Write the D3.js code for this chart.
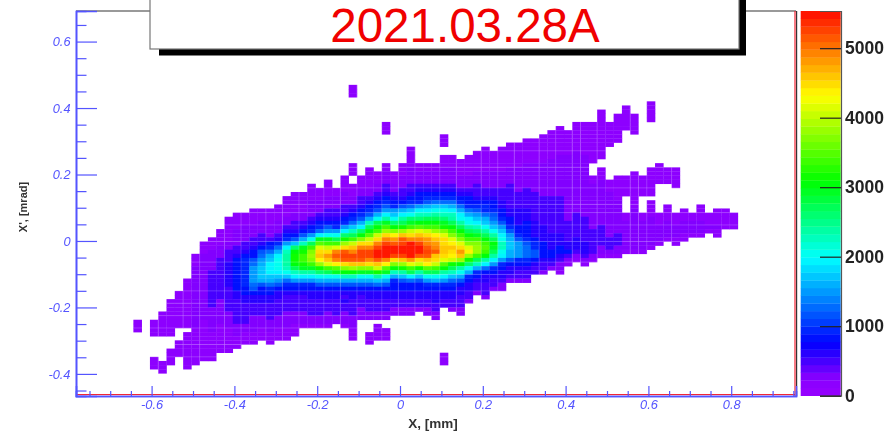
<!DOCTYPE html>
<html>
<head>
<meta charset="utf-8">
<script src="https://cdn.jsdelivr.net/npm/d3@7"></script>
<style>
  html, body { margin: 0; padding: 0; background: #fff; overflow: hidden; }
  svg { display: block; filter: blur(0.45px); font-family: "Liberation Sans", Arial, sans-serif; }
</style>
</head>
<body>
<div id="chart"></div>
<script>
// Bin edges
var binX0 = -0.644, binDX = 0.02;
var binY0 = 0.4698, binDY = 0.0124;
var countUnit = 160;   // one step of the base-36 codes below

// First row of every column, top row = 0
var colStart = [57,57,57,55,52,50,47,41,38,37,35,32,31,31,30,30,30,29,27,26,26,24,25,23,25,22,0,22,20,21,9,21,19,15,19,19,19,12,17,18,17,16,15,16,15,14,14,13,13,12,11,10,11,9,9,9,6,9,7,5,7,22,4,19,20,20,30,31,29,31,30,30,31];

// Counts per column from colStart downward, "." is an empty bin
var colCells = [
  "111",
  "",
  "1111. ....1 11",
  "11111 1.... ..111",
  "11111 1111. ..111 1",
  "11111 1111. ..111 1",
  "11111 11111 11.11 11111 11",
  "11122 22222 22222 22211 11111 11",
  "11122 22222 22222 22221 11111 1111",
  "11122 22233 33333 33222 22211 11111",
  "11112 22333 33333 33222 22211 11111",
  "11111 12233 34444 44333 33322 22111 111",
  "11112 22233 45555 55554 43333 33222 111",
  "11122 22334 56666 66655 44333 33221 11",
  "11112 22334 55789 99987 54433 32222 111",
  "11122 23345 789ab bba75 54433 32221 11",
  "11112 22356 8abcc cba86 54433 33222 111",
  "11112 22346 8acdd dcb97 54433 33222 111",
  "11111 22345 69cef ffedb 86543 33322 22111",
  "11111 22334 57bgj kkjhe c9654 33332 22111",
  "11111 22345 7aeik llkif c9654 33332 221",
  "11112 22234 569dh lnonl ifc96 54433 33221",
  "11122 23456 8cimq strok gda75 44333 3221",
  "11112 22334 579di lpsut qlhda 75443 33222 1",
  "11222 33456 9dhlq vwvrm ida75 44333 322",
  "11112 22334 569cg koswx wsnje a7543 43322 21",
  "111.. ..... ..... ....1 11..1 11223 4568b ehlpt vxwto jea75 44333 32221 11",
  "11122 33456 7acgj nsvxx wtnid a7543 33222",
  "11111 22345 67aeh jmpsv xxvsn ida75 44333 22... 111",
  "11122 34567 adhjl psvxy ywtpk fb854 43332 2.111 1",
  "111.. ..... 11222 33456 79cfi losvx zzyvr mida7 54433 322.. 111",
  "11122 34569 bdgjn ruwzz xsnje a6554 43322",
  "11122 23345 7acfh kotwx zzxto kfb75 54433 22",
  "11111 22223 34568 bdgil psvyz zyuql hc855 44332 2",
  "11222 34556 9cegj mqtvx yzwsp kfb75 54433 2",
  "11222 34567 acehj lpsuv wxwtr mhd96 54433 22",
  "11222 34568 bdfhj lortu vwtsp lhda6 54443 322",
  "111.. 11122 22345 68bde gikn q sstts qmjfc 96544 33... ..... ...11 1",
  "11122 22345 68ace fhjln qrtsr pkheb 86544 332",
  "11112 22345 68acd fhjln qsuto jfda7 54433 322",
  "11111 22234 5568a cdfhj lnqro kgda6 54433 2",
  "11111 22233 34567 9bceg ilnoo lhea6 54332",
  "11111 12222 33456 68abd fhjlm ljfc8 54433 32",
  "11111 22223 34556 789bd fhjih fc965 4332",
  "11111 12222 33344 55679 bcdee dc965 44322",
  "11111 12222 33333 34455 679ab baa75 4432",
  "11111 12222 22333 34444 55679 99965 4332",
  "11111 12222 22333 33444 55556 78886 54332",
  "11111 12222 22233 33333 44445 66775 433",
  "11111 11222 22222 33333 33444 45555 4332",
  "11111 11222 22222 23333 33333 44445 5432",
  "11111 11222 22222 22333 33333 34445 54322 1",
  "11111 12222 22222 22222 22333 33445 321",
  "11111 11222 22222 22222 22333 33344 4321",
  "11111 11122 22222 22222 22233 33334 44321",
  "11111 11111 ...11 22222 22222 23333 3321",
  "11111 11111 11..1 11222 22222 22233 33322 1",
  "11111 1.... ....1 11222 22222 22233 321",
  "11111 11... ..... 11111 12222 22223 33221",
  "11111 1.... ..... ..111 11... .1122 22222 1",
  "11111 ..... ....1 11111 11122 22222 2221",
  "11111 ....1 12222 2221",
  "11111 ..... ..... .1111 111.1 11122 22222 1",
  "11111 ..... ..111 22221",
  "1111. ....1 11122 221",
  "11111 ..... .1112 2211",
  "11122 211",
  "11222 1",
  "11112 221",
  "11121",
  "11112 11",
  "11111",
  "1111"
];

// Faint light seams the picture shows between some bins
var seamCols = [3, 6, 8, 11, 13, 16, 18, 20, 23, 25, 27, 30, 32, 34, 37, 39, 42, 44, 46, 49, 51, 53, 54, 56, 60, 61, 62, 65];
var seamRows = [16, 20, 25, 29, 31, 34, 38, 43, 46, 50, 53, 56, 59, 63, 66];

var xMajor = [-0.6, -0.4, -0.2, 0, 0.2, 0.4, 0.6, 0.8];
var xMinor = [-0.75, -0.7, -0.65, -0.55, -0.5, -0.45, -0.35, -0.3, -0.25, -0.15, -0.1, -0.05, 0.05, 0.1, 0.15, 0.25, 0.3, 0.35, 0.45, 0.5, 0.55, 0.65, 0.7, 0.75, 0.85, 0.9, 0.95];
var yMajor = [-0.4, -0.2, 0, 0.2, 0.4, 0.6];
var yMinor = [-0.45, -0.35, -0.3, -0.25, -0.15, -0.1, -0.05, 0.05, 0.1, 0.15, 0.25, 0.3, 0.35, 0.45, 0.5, 0.55, 0.65];
var colorTicks = [0, 1000, 2000, 3000, 4000, 5000];
var colorMax = 5535, colorBands = 50;

var titleText = "2021.03.28A";
var xTitle = "X, [mm]";
var yTitle = "X', [mrad]";

// Palette stops
var stopValues = [0, 200, 700, 1930, 3030, 4255, 5535];
var stopColors = ["#9400ff", "#8800ff", "#0000ff", "#00ffff", "#00ff00", "#ffff00", "#ff0000"];

var W = 889, H = 433;
var blue = "#5454ff";

var x = d3.scaleLinear().domain([-0.7826, 0.9565]).range([76, 796]);
var y = d3.scaleLinear().domain([-0.4665, 0.6920]).range([396, 11]);
var yColor = d3.scaleLinear().domain([0, colorMax]).range([395.7, 11]);

var ramp = d3.scaleLinear().domain(stopValues).range(stopColors).interpolate(d3.interpolateRgb);
function bandColor(v) {
  var b = Math.min(colorBands - 1, Math.floor(v / colorMax * colorBands));
  return ramp(b * colorMax / colorBands);
}

// Flatten the columns into bins
var bins = [];
colCells.forEach(function(s, c) {
  s.replace(/ /g, "").split("").forEach(function(ch, i) {
    if (ch == ".") return;
    bins.push({ c: c, r: colStart[c] + i, v: parseInt(ch, 36) * countUnit });
  });
});

var svg = d3.select("#chart").append("svg")
  .attr("width", W)
  .attr("height", H);

// Histogram, the small overlap hides the antialiasing gap between bins
svg.append("g").attr("class", "bins")
  .selectAll("rect")
  .data(bins)
  .enter().append("rect")
    .attr("x", function(d) { return x(binX0 + d.c * binDX); })
    .attr("y", function(d) { return y(binY0 - d.r * binDY); })
    .attr("width", function(d) { return x(binX0 + (d.c + 1) * binDX) - x(binX0 + d.c * binDX) + 0.3; })
    .attr("height", function(d) { return y(binY0 - (d.r + 1) * binDY) - y(binY0 - d.r * binDY) + 0.3; })
    .style("fill", function(d) { return bandColor(d.v); });

// Seams
var seams = svg.append("g").attr("class", "seams")
  .style("stroke", "#fff").style("stroke-opacity", 0.22).style("stroke-width", 0.9);
seams.selectAll("line.col")
  .data(seamCols)
  .enter().append("line").attr("class", "col")
    .attr("x1", function(d) { return x(binX0 + d * binDX); })
    .attr("x2", function(d) { return x(binX0 + d * binDX); })
    .attr("y1", y(binY0)).attr("y2", y(binY0 - 70 * binDY));
seams.selectAll("line.row")
  .data(seamRows)
  .enter().append("line").attr("class", "row")
    .attr("y1", function(d) { return y(binY0 - d * binDY); })
    .attr("y2", function(d) { return y(binY0 - d * binDY); })
    .attr("x1", x(binX0)).attr("x2", x(binX0 + 73 * binDX));

// Frame
svg.append("line").attr("x1", 76).attr("x2", 796).attr("y1", 11).attr("y2", 11)
  .style("stroke", "#777").style("stroke-width", 1.4);
svg.append("line").attr("x1", 76).attr("x2", 795).attr("y1", 394.6).attr("y2", 394.6)
  .style("stroke", "#f01020").style("stroke-width", 1);
svg.append("line").attr("x1", 796.6).attr("x2", 796.6).attr("y1", 11).attr("y2", 396)
  .style("stroke", "#333").style("stroke-width", 1.2);
svg.append("line").attr("x1", 795).attr("x2", 795).attr("y1", 11).attr("y2", 396)
  .style("stroke", "#f01020").style("stroke-width", 1.1);

// Axes
function styleAxis(g) {
  g.selectAll(".domain").style("stroke", blue).style("stroke-width", 1.6);
  g.selectAll(".tick line").style("stroke", blue).style("stroke-width", 1.2);
  g.selectAll(".tick text")
    .style("fill", blue)
    .style("font-size", "12.8px")
    .style("font-style", "italic")
    .style("font-family", "'Liberation Sans', Arial, sans-serif");
}

svg.append("g").attr("transform", "translate(0,396)")
  .call(d3.axisBottom(x).tickValues(xMinor).tickSize(-5).tickFormat(""))
  .call(styleAxis);
svg.append("g").attr("transform", "translate(0,396)")
  .call(d3.axisBottom(x).tickValues(xMajor).tickSize(-10).tickPadding(4).tickFormat(function(d) { return String(d); }))
  .call(styleAxis);
svg.append("g").attr("transform", "translate(76,0)")
  .call(d3.axisLeft(y).tickValues(yMinor).tickSize(-10.5).tickFormat(""))
  .call(styleAxis);
svg.append("g").attr("transform", "translate(76,0)")
  .call(d3.axisLeft(y).tickValues(yMajor).tickSize(-21).tickPadding(5.5).tickFormat(function(d) { return String(d); }))
  .call(styleAxis);

svg.append("text")
  .attr("x", 433).attr("y", 428)
  .attr("text-anchor", "middle")
  .style("font-size", "13.5px").style("font-weight", "bold").style("fill", "#333")
  .text(xTitle);
svg.append("text")
  .attr("transform", "translate(27,207) rotate(-90)")
  .attr("text-anchor", "middle")
  .style("font-size", "11px").style("font-weight", "bold").style("fill", "#333")
  .text(yTitle);

// Colour bar
svg.append("g").attr("class", "palette")
  .selectAll("rect")
  .data(d3.range(colorBands))
  .enter().append("rect")
    .attr("x", 800.7)
    .attr("width", 40)
    .attr("y", function(d) { return yColor((d + 1) * colorMax / colorBands); })
    .attr("height", function(d) { return yColor(d * colorMax / colorBands) - yColor((d + 1) * colorMax / colorBands) + 0.3; })
    .style("fill", function(d) { return ramp(d * colorMax / colorBands); });

var colorAxis = svg.append("g").attr("transform", "translate(841,0)")
  .call(d3.axisRight(yColor).tickValues(colorTicks).tickSize(-21).tickPadding(4).tickFormat(function(d) { return String(d); }));
colorAxis.selectAll(".domain").style("stroke", "#555").style("stroke-width", 1.2);
colorAxis.selectAll(".tick line").style("stroke", "#222").style("stroke-width", 1.2);
colorAxis.selectAll(".tick text")
  .style("fill", "#222")
  .style("font-size", "17.5px")
  .style("font-weight", "bold")
  .style("font-family", "'Liberation Sans', Arial, sans-serif");

// Title pave with its shadow
svg.append("rect").attr("x", 159).attr("y", 0).attr("width", 587).attr("height", 55.5).style("fill", "#000");
svg.append("rect").attr("x", 150).attr("y", -2).attr("width", 589).attr("height", 51)
  .style("fill", "#fff").style("stroke", "#777").style("stroke-width", 1.2);
svg.append("text")
  .attr("x", 465).attr("y", 42)
  .attr("text-anchor", "middle")
  .style("font-size", "47.5px").style("fill", "#f00000")
  .text(titleText);
</script>
</body>
</html>
